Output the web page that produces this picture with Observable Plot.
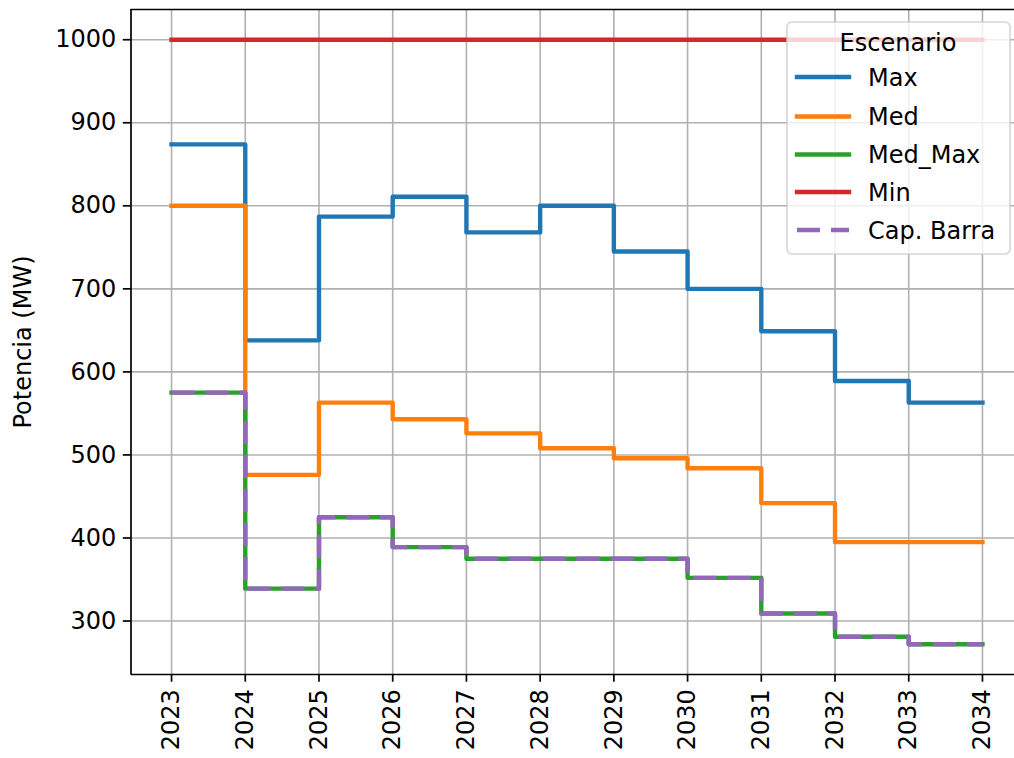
<!DOCTYPE html>
<html>
<head>
<meta charset="utf-8">
<script src="https://cdn.jsdelivr.net/npm/d3@7"></script>
<script src="https://cdn.jsdelivr.net/npm/@observablehq/plot@0.6"></script>
<style>
  html, body { margin: 0; padding: 0; background: #fff; overflow: hidden; }
  #wrap { position: relative; width: 1014px; height: 758px; overflow: hidden; background: #fff; }
  #wrap svg { display: block; max-width: none !important; }
  #legend { position: absolute; left: 0; top: 0; pointer-events: none; }
</style>
</head>
<body>
<div id="wrap"></div>
<script>
// ---- Data ----
const years = [2023, 2024, 2025, 2026, 2027, 2028, 2029, 2030, 2031, 2032, 2033, 2034];
const maxValues = [874, 638, 787, 811, 768, 800, 745, 700, 649, 589, 563, 563];
const medValues = [800, 476, 563, 543, 526, 508, 496, 484, 442, 395, 395, 395];
const medMaxValues = [575, 339, 425, 389, 375, 375, 375, 352, 309, 281, 272, 272];
const minValues = [1000, 1000, 1000, 1000, 1000, 1000, 1000, 1000, 1000, 1000, 1000, 1000];
const capBarraValues = [575, 339, 425, 389, 375, 375, 375, 352, 309, 281, 272, 272];
const seriesNames = ["Max", "Med", "Med_Max", "Min", "Cap. Barra"];
const seriesColors = ["#1f77b4", "#ff7f0e", "#2ca02c", "#d62728", "#9467bd"];
const yTicks = [300, 400, 500, 600, 700, 800, 900, 1000];
const yLabel = "Potencia (MW)";
const legendTitle = "Escenario";

const seriesValues = [maxValues, medValues, medMaxValues, minValues, capBarraValues];
const solidRows = [];
const dashedRows = [];
seriesNames.forEach((name, si) => {
  seriesValues[si].forEach((v, i) => {
    const row = { year: years[i], value: v, name };
    if (name === "Cap. Barra") dashedRows.push(row); else solidRows.push(row);
  });
});

const FONT = "DejaVu Sans, sans-serif";
const FS = 24;
const LW = 4.4;
const xDomain = [2022.45, 2034.55];
const yDomain = [235.6, 1036.4];

const chart = Plot.plot({
  width: 1060,
  height: 758,
  marginLeft: 130.5,
  marginRight: 37.5,
  marginTop: 9,
  marginBottom: 84,
  style: { fontFamily: FONT, fontSize: FS + "px", background: "white", color: "#000", overflow: "hidden", maxWidth: "none" },
  x: { domain: xDomain, label: null },
  y: { domain: yDomain, label: null },
  color: { domain: seriesNames, range: seriesColors },
  marks: [
    Plot.gridX(years, { stroke: "#b0b0b0", strokeOpacity: 1, strokeWidth: 1.6 }),
    Plot.gridY(yTicks, { stroke: "#b0b0b0", strokeOpacity: 1, strokeWidth: 1.6 }),
    Plot.line(solidRows, {
      x: "year", y: "value", z: "name", stroke: "name",
      curve: "step-after", strokeWidth: LW, strokeLinecap: "square", strokeLinejoin: "round"
    }),
    Plot.line(dashedRows, {
      x: "year", y: "value", z: "name", stroke: "name",
      curve: "step-after", strokeWidth: LW, strokeDasharray: "23,11", strokeLinecap: "butt", strokeLinejoin: "round"
    }),
    // spines: left, top, bottom (right one lies beyond the cropped edge)
    Plot.ruleX([xDomain[0]], { stroke: "#000", strokeWidth: 1.7 }),
    Plot.ruleY([yDomain[0]], { stroke: "#000", strokeWidth: 1.7 }),
    Plot.ruleY([yDomain[1]], { stroke: "#000", strokeWidth: 1.7 }),
    Plot.axisX(years, {
      tickRotate: -90, tickSize: 7.7, tickPadding: 7, tickFormat: d => String(d),
      label: null, fontSize: FS, strokeWidth: 1.7
    }),
    Plot.axisY(yTicks, {
      tickSize: 7.7, tickPadding: 7, tickFormat: d => String(d),
      label: null, fontSize: FS, strokeWidth: 1.7
    }),
    Plot.text([yLabel], {
      frameAnchor: "left", dx: -107.5, rotate: -90,
      textAnchor: "middle", lineAnchor: "middle", fontSize: FS, fill: "#000"
    })
  ]
});
chart.style.maxWidth = "none";

const wrap = document.getElementById("wrap");
wrap.appendChild(chart);

// ---- Legend (overlay) ----
const lg = d3.select(wrap).append("svg")
  .attr("id", "legend").attr("width", 1014).attr("height", 758)
  .style("font-family", FONT).style("font-size", FS + "px");

lg.append("rect")
  .attr("x", 787).attr("y", 22).attr("width", 223).attr("height", 232)
  .attr("rx", 5).attr("ry", 5)
  .attr("fill", "#fff").attr("fill-opacity", 0.8)
  .attr("stroke", "#cccccc").attr("stroke-opacity", 0.8).attr("stroke-width", 1.7);

lg.append("text")
  .attr("x", 898).attr("y", 42).attr("text-anchor", "middle").attr("dy", "0.36em")
  .attr("fill", "#000").text(legendTitle);

const rowY = [77, 116.5, 154.5, 192, 230];
seriesNames.forEach((name, i) => {
  const g = lg.append("g");
  g.append("line")
    .attr("x1", 797).attr("x2", 849).attr("y1", rowY[i]).attr("y2", rowY[i])
    .attr("stroke", seriesColors[i]).attr("stroke-width", LW)
    .attr("stroke-linecap", name === "Cap. Barra" ? "butt" : "square")
    .attr("stroke-dasharray", name === "Cap. Barra" ? "23,11" : null);
  g.append("text")
    .attr("x", 868).attr("y", rowY[i]).attr("dy", "0.36em")
    .attr("fill", "#000").text(name);
});
</script>
</body>
</html>
